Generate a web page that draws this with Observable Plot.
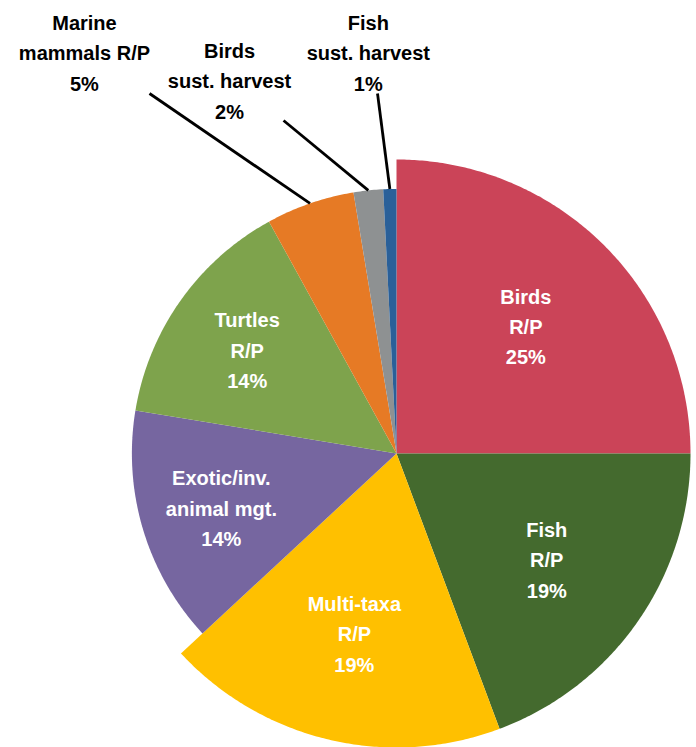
<!DOCTYPE html>
<html>
<head>
<meta charset="utf-8">
<script src="https://cdn.jsdelivr.net/npm/d3@7"></script>
<script src="https://cdn.jsdelivr.net/npm/@observablehq/plot@0.6"></script>
<style>
  html, body { margin: 0; padding: 0; background: #fff; }
  #chart svg { display: block; }
</style>
</head>
<body>
<div id="chart"></div>
<script>
// ---- data (clockwise from 12 o'clock) ----
const categories = ["Birds R/P", "Fish R/P", "Multi-taxa R/P", "Exotic/inv. animal mgt.", "Turtles R/P", "Marine mammals R/P", "Birds sust. harvest", "Fish sust. harvest"];
const shares = [25.0, 19.3, 18.8, 14.5, 14.4, 5.4, 1.8, 0.8];
const labelTexts = ["Birds\nR/P", "Fish\nR/P", "Multi-taxa\nR/P", "Exotic/inv.\nanimal mgt.", "Turtles\nR/P", "Marine\nmammals R/P", "Birds\nsust. harvest", "Fish\nsust. harvest"];
const pctLabels = ["25%", "19%", "19%", "14%", "14%", "5%", "2%", "1%"];
const colors = ["#CB4458", "#446A2E", "#FFC000", "#7666A0", "#7EA34C", "#E67A25", "#8E9192", "#2A6099"];

// ---- layout ----
const W = 696, H = 747;
const CX = 396, CY = 453, RPX = 294;          // pie centre and outer radius in px
const bigShare = 18;                          // slices at/above this share use the full radius
const smallR = 0.90;                          // radius of the remaining slices (fraction)
const insideR = 0.622;                        // inside label distance (fraction of full radius)
// callouts: [label centre angle deg, label centre radius, leader end angle, leader end radius]
const callouts = {
  "Marine mammals R/P": [322.25, 509.7 / RPX, 325.55, 436.6 / RPX],
  "Birds sust. harvest": [336.0, 410.5 / RPX, 341.26, 351.6 / RPX],
  "Fish sust. harvest": [356.0, 404 / RPX, 356.98, 360.5 / RPX]
};

const total = d3.sum(shares);
const rad = d => d * Math.PI / 180;
const pt = (angDeg, r) => ({x: r * Math.sin(rad(angDeg)), y: r * Math.cos(rad(angDeg))});

let acc = 0;
const slices = categories.map((name, i) => {
  const a0 = acc / total * 360;
  acc += shares[i];
  const a1 = acc / total * 360;
  const r = shares[i] >= bigShare ? 1 : smallR;
  return {name, i, a0, a1, mid: (a0 + a1) / 2, r};
});

// polygon points for each slice
const polyPts = [];
for (const s of slices) {
  polyPts.push({name: s.name, x: 0, y: 0});
  const n = Math.max(4, Math.ceil((s.a1 - s.a0) / 0.5));
  for (let k = 0; k <= n; k++) {
    const a = s.a0 + (s.a1 - s.a0) * k / n;
    polyPts.push({name: s.name, ...pt(a, s.r)});
  }
  polyPts.push({name: s.name, x: 0, y: 0});
}

const insideLabels = [];
const outsideLabels = [];
const leaders = [];
for (const s of slices) {
  const text = labelTexts[s.i] + "\n" + pctLabels[s.i];
  if (callouts[s.name]) {
    const [la, lr, ea, er] = callouts[s.name];
    const p = pt(la, lr);
    outsideLabels.push({text, ...p});
    const start = pt(s.mid, s.r);
    const end = pt(ea, er);
    leaders.push({x1: start.x, y1: start.y, x2: end.x, y2: end.y});
  } else {
    const p = pt(s.mid, insideR);
    insideLabels.push({text, x: p.x, y: p.y});
  }
}

const font = "'Liberation Sans', Arial, Helvetica, sans-serif";

const chart = Plot.plot({
  width: W,
  height: H,
  margin: 0,
  x: {domain: [-CX / RPX, (W - CX) / RPX], axis: null},
  y: {domain: [-(H - CY) / RPX, CY / RPX], axis: null},
  color: {domain: categories, range: colors},
  style: {fontFamily: font, background: "white"},
  marks: [
    Plot.line(polyPts, {x: "x", y: "y", z: "name", fill: "name", stroke: "none", curve: "linear"}),
    Plot.link(leaders, {x1: "x1", y1: "y1", x2: "x2", y2: "y2", stroke: "black", strokeWidth: 2.8}),
    Plot.text(insideLabels, {x: "x", y: "y", text: "text", fill: "white", fontSize: 20, fontWeight: "bold", lineHeight: 1.52, textAnchor: "middle", lineAnchor: "middle"}),
    Plot.text(outsideLabels, {x: "x", y: "y", text: "text", fill: "black", fontSize: 20, fontWeight: "bold", lineHeight: 1.52, textAnchor: "middle", lineAnchor: "middle"})
  ]
});
document.getElementById("chart").appendChild(chart);
</script>
</body>
</html>
